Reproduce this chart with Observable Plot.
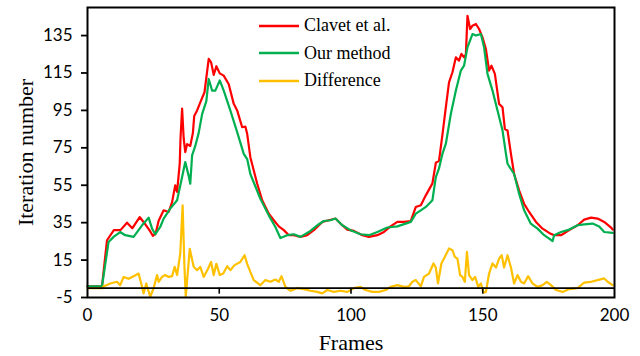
<!DOCTYPE html>
<html>
<head>
<meta charset="utf-8">
<script src="https://cdn.jsdelivr.net/npm/d3@7"></script>
<script src="https://cdn.jsdelivr.net/npm/@observablehq/plot@0.6"></script>
<style>
  html, body { margin: 0; padding: 0; background: #fff; }
  #wrap { position: relative; width: 640px; height: 356px; }
  #legend { position: absolute; left: 258px; top: 12px; font-family: "Liberation Serif", "DejaVu Serif", serif; font-size: 18px; color: #000; }
  #legend .row { display: flex; align-items: center; height: 27.6px; }
  #legend svg { margin-right: 4px; }
</style>
</head>
<body>
<div id="wrap"><div id="chart"></div><div id="legend"></div></div>
<script>
// ---- Data ----
const seriesNames = ["Clavet et al.", "Our method", "Difference"];
const seriesColors = ["#FF0000", "#00B050", "#FFC000"];

const clavetFrames = [0,5.5,7.4,10,12.5,15,17,19.8,22,23.5,24.8,25.8,27,28.9,30.8,32.1,33.3,34,35,35.3,35.9,36.5,37.1,37.8,39,40,40.5,41.6,43,44.4,46,46.9,47.9,48.9,50.2,51.7,53.6,55.5,56.8,58.7,59.9,60.6,61.8,64.4,66.3,68.8,70.7,72.6,74.5,76.4,78.3,80.8,83.4,85.9,89.1,91.6,94.1,96,98.6,101.1,104.3,106.8,110,112.5,115,117.6,120.1,122.7,124.6,126.5,128.4,130.9,132.2,133.4,134.7,136,137.2,138.5,139.8,141,141.9,142.9,143.6,144.2,145.2,146.1,147.4,148.6,149.9,151.2,152.4,153.3,154.6,156.2,157.5,158.4,159.4,160.7,161.9,163.8,165.7,167.6,170.2,172.7,175.2,177.1,179.7,182.8,186,188.5,191.1,193.6,196.1,198.7,199.3];
const clavetIters = [1,1,25.6,31,31,35,32,38,34,31,28,29,36,41.6,40.7,46,55,51.4,66.5,80,96,80,72.7,77,76,83,92,95,100,104.7,122.5,120.7,114,118.6,114.8,113.6,109,98.5,95,86,86.4,82.5,70,55.8,47,39.8,36.3,33,31,28.3,28.3,27.4,28.3,31,35.4,36.3,37.2,34.5,31.3,30.6,28.3,27.4,28.3,30,33,35.4,35.4,35.9,43.4,44.3,49.6,56,67,68,82,96.7,110,115.4,123.4,121.6,125.2,123.4,125,145.6,138.5,140.3,141.2,138.5,134,127.8,116.3,118.9,114.5,98.5,96.7,85,84.3,71.8,61,52.3,45,40.7,35.4,31.8,29.5,28.3,28.3,31,33.6,36.6,37.7,37.2,35.4,32.4,31.3];

const ourFrames = [0,5.5,8,9.9,12.4,14.3,17.5,20.7,23.2,24.5,25.7,27.6,28.9,31.4,34,35.9,37.1,38.4,39,39.7,40.9,42.2,43.5,45.1,46,47.3,48.5,50.2,51.7,54.2,56.8,59.3,60.6,61.8,65.6,68.8,71.3,73.2,75.8,78.3,80.8,84,87.2,89.7,92.2,94.1,96.7,99.8,103.6,106.8,110,113.8,117.6,122.7,124.6,126.5,128.4,130.9,132.2,133.4,134.7,136,137.9,139.8,141.7,142.9,144.2,146.1,147.4,149.3,150.5,151.8,153.7,155.6,157.5,158.8,159.4,161.9,163.8,165.7,168.2,170.8,173.3,175.2,176.5,177.1,179.7,182.8,186,188.5,191.7,194.2,196.1,199.3];
const ourIters = [1,1,24.7,27.4,30,28.3,27.4,33.6,37.7,31.8,28.8,32.7,37.2,42.5,47,59.4,67.4,60,55.8,71,76,83,93,100,111.8,105.6,105.6,111,105.6,95,83.4,71.8,69,61,47.8,38.9,32.7,26.8,28.3,28.8,27.4,30,33.6,35.9,36.3,37.2,33.6,31,28.8,28.3,30,32.4,33,35.4,39.8,41.6,43.4,47,59.4,64,71.8,77.2,93.2,105.6,116.3,118.9,128.7,135.8,135,135.8,128.7,114.5,105.6,95,84.3,71.8,66.5,61,50.5,41.6,34.5,31.8,28.3,26.5,25.2,28.3,30,31.3,33.6,34.1,34.5,33,30,29.5];

const diffFrames = [0,5.5,6.1,8.6,11.2,12.4,13.7,15.6,17.5,19.4,20.7,21.3,22.3,23.8,25.1,26.4,27,28.3,29.5,30.8,32.1,33.1,34,35.2,36.1,36.8,37.3,38.8,40.3,41.6,42.8,44.1,45.8,46.9,47.9,48.9,50.2,51.5,53,54.2,55.8,58,59.6,60.6,61.8,63.1,65.6,67.5,69.4,71.3,72.6,73.6,75.1,77,79.6,82.1,84.6,87.2,89.1,91,93.5,96,98.6,101.1,103.6,105.5,108.1,110.6,113.2,115,117.6,120.1,122,123.3,124.6,126.5,127.7,129.6,131.3,132.2,133,134.3,135.6,137.2,138.5,139.4,140.4,141.4,142.3,143.2,144,144.8,146.1,147.1,148.3,149.3,150.3,151.2,152.4,153.7,155,156.2,157.2,158.1,159.4,160.7,161.9,163.2,164.5,165.7,167.2,168.9,170.8,172.7,174.3,175.9,177.8,180.3,182.8,186,188.5,191.1,193.6,196.1,197.4,199.3];
const diffIters = [0,0,0.9,2.5,3.4,1.6,6,5,6.4,7.8,0.7,-2.8,2.5,-4.6,0,7,3.4,6,7,6,6.4,11.4,7,18.5,44.3,11,-4.6,21,11.4,9.6,11.4,6,10.5,14,7,13,7,7.8,11.7,9.6,12.3,14,17.6,13,8.7,4.3,1.6,4.3,3.4,4.6,3.4,6.4,0.7,-1.4,0,-0.5,-1.4,-2,-2.8,-1,-2,-1.4,-2,0,0.7,-1,-2,-2,-1,0.7,1.6,0.7,1,3.4,4.3,1,6,7.8,13.2,11,2.5,13.2,16.7,21.2,20.3,16.7,15.8,7,6,3.4,19.4,7,4.3,6,0.7,2.5,-2.5,-2,7.8,13.2,11,15.8,17.6,11,17.6,11,2.5,7,3.4,2.5,6.4,2.5,0.7,1.6,3.4,1.6,-1,-2,-0.5,0,3,3.4,4.3,5.2,3.4,1.6];

const xTicks = [0, 50, 100, 150, 200];
const yTicks = [-5, 15, 35, 55, 75, 95, 115, 135];
const xTitle = "Frames";
const yTitle = "Iteration number";

// ---- Build table ----
const frameLists = [clavetFrames, ourFrames, diffFrames];
const iterLists = [clavetIters, ourIters, diffIters];
const rows = [];
seriesNames.forEach((name, s) => {
  frameLists[s].forEach((f, i) => rows.push({series: name, frame: f, iter: iterLists[s][i]}));
});

const serif = "'Liberation Serif', 'DejaVu Serif', serif";
const sans = "Lato, 'Liberation Sans', sans-serif";

const chart = Plot.plot({
  width: 640,
  height: 356,
  marginTop: 7,
  marginRight: 26,
  marginBottom: 59,
  marginLeft: 87,
  x: {domain: [0, 200]},
  y: {domain: [-5, 150]},
  style: {background: "white", color: "black"},
  marks: [
    ...seriesNames.map((name, s) =>
      Plot.line(rows.filter(d => d.series === name), {x: "frame", y: "iter", stroke: seriesColors[s], strokeWidth: 2.2, curve: "linear"})
    ),
    Plot.ruleY([0], {stroke: "black", strokeWidth: 1.6}),
    Plot.ruleX(xTicks.slice(1, -1), {x: d => d, y1: 0, y2: 0, insetBottom: -6, stroke: "black", strokeWidth: 1.6}),
    Plot.frame({stroke: "black", strokeWidth: 2}),
    Plot.axisY(yTicks, {tickSize: 6, tickPadding: 9, strokeWidth: 1.8, fontSize: 17, fontFamily: sans, tickFormat: d => String(d), label: null}),
    Plot.axisX(xTicks, {tickSize: 0, tickPadding: 11, fontSize: 17, fontFamily: sans, tickFormat: d => String(d), label: null}),
    Plot.text([xTitle], {frameAnchor: "bottom", dy: 52, fontSize: 22, fontFamily: serif, text: d => d}),
    Plot.text([yTitle], {frameAnchor: "left", textAnchor: "middle", dx: -62, rotate: -90, fontSize: 22, fontFamily: serif, text: d => d})
  ]
});
document.getElementById("chart").appendChild(chart);

// ---- Legend ----
const legend = document.getElementById("legend");
seriesNames.forEach((name, s) => {
  const row = document.createElement("div");
  row.className = "row";
  row.innerHTML = `<svg width="42" height="6"><line x1="1" y1="3" x2="41" y2="3" stroke="${seriesColors[s]}" stroke-width="2.4"/></svg><span>${name}</span>`;
  legend.appendChild(row);
});
</script>
</body>
</html>
